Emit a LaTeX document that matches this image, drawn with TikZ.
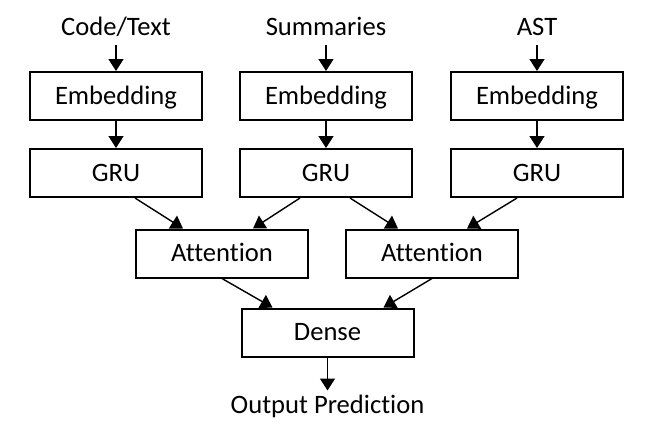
\documentclass[tikz,border=0pt]{standalone}
\usepackage{fontspec}
\setmainfont{Carlito}[Ligatures=NoCommon]
\usetikzlibrary{arrows.meta,positioning}

\tikzset{
  block/.style={draw,line width=1pt,minimum width=86pt,minimum height=24pt,
    inner sep=0pt,text height=0.8em,text depth=0em},
  lbl/.style={inner sep=3pt,text height=0.85em,text depth=0.15em},
  flow/.style={line width=0.7pt,-{Triangle[width=7.5pt,length=6pt]}}
}

\begin{document}
\begin{tikzpicture}[x=0.5pt,y=-0.5pt,font=\fontsize{13.3}{16}\selectfont]
  \useasboundingbox (0,0) rectangle (652,430);
  % three input branches
  \node[block] (embA) at (116,96) {Embedding};
  \node[block] (embB) at (326,96) {Embedding};
  \node[block] (embC) at (537,96) {Embedding};
  \node[block] (gruA) at (116,173) {GRU};
  \node[block] (gruB) at (326,173) {GRU};
  \node[block] (gruC) at (537,173) {GRU};
  \node[lbl,above=13pt of embA] (inA) {Code/Text};
  \node[lbl,above=13pt of embB] (inB) {Summaries};
  \node[lbl,above=13pt of embC] (inC) {AST};
  % merge layers
  \node[block] (attA) at (222,253.5) {Attention};
  \node[block] (attB) at (432,253.5) {Attention};
  \node[block] (dense) at (327.5,332.5) {Dense};
  \node[lbl,below=16.5pt of dense] (out) {Output Prediction};

  \draw[flow] (inA) -- (embA);
  \draw[flow] (inB) -- (embB);
  \draw[flow] (inC) -- (embC);
  \draw[flow] (embA) -- (gruA);
  \draw[flow] (embB) -- (gruB);
  \draw[flow] (embC) -- (gruC);
  \draw[flow] ([xshift=9.5pt]gruA.south) -- ([xshift=-19.5pt]attA.north);
  \draw[flow] ([xshift=-13pt]gruB.south) -- ([xshift=15.5pt]attA.north);
  \draw[flow] ([xshift=12pt]gruB.south) -- ([xshift=-17pt]attB.north);
  \draw[flow] ([xshift=-10pt]gruC.south) -- ([xshift=17.5pt]attB.north);
  \draw[flow] (attA.south) -- ([xshift=-27.5pt]dense.north);
  \draw[flow] (attB.south) -- ([xshift=28pt]dense.north);
  \draw[flow] (dense) -- (out);
\end{tikzpicture}
\end{document}
